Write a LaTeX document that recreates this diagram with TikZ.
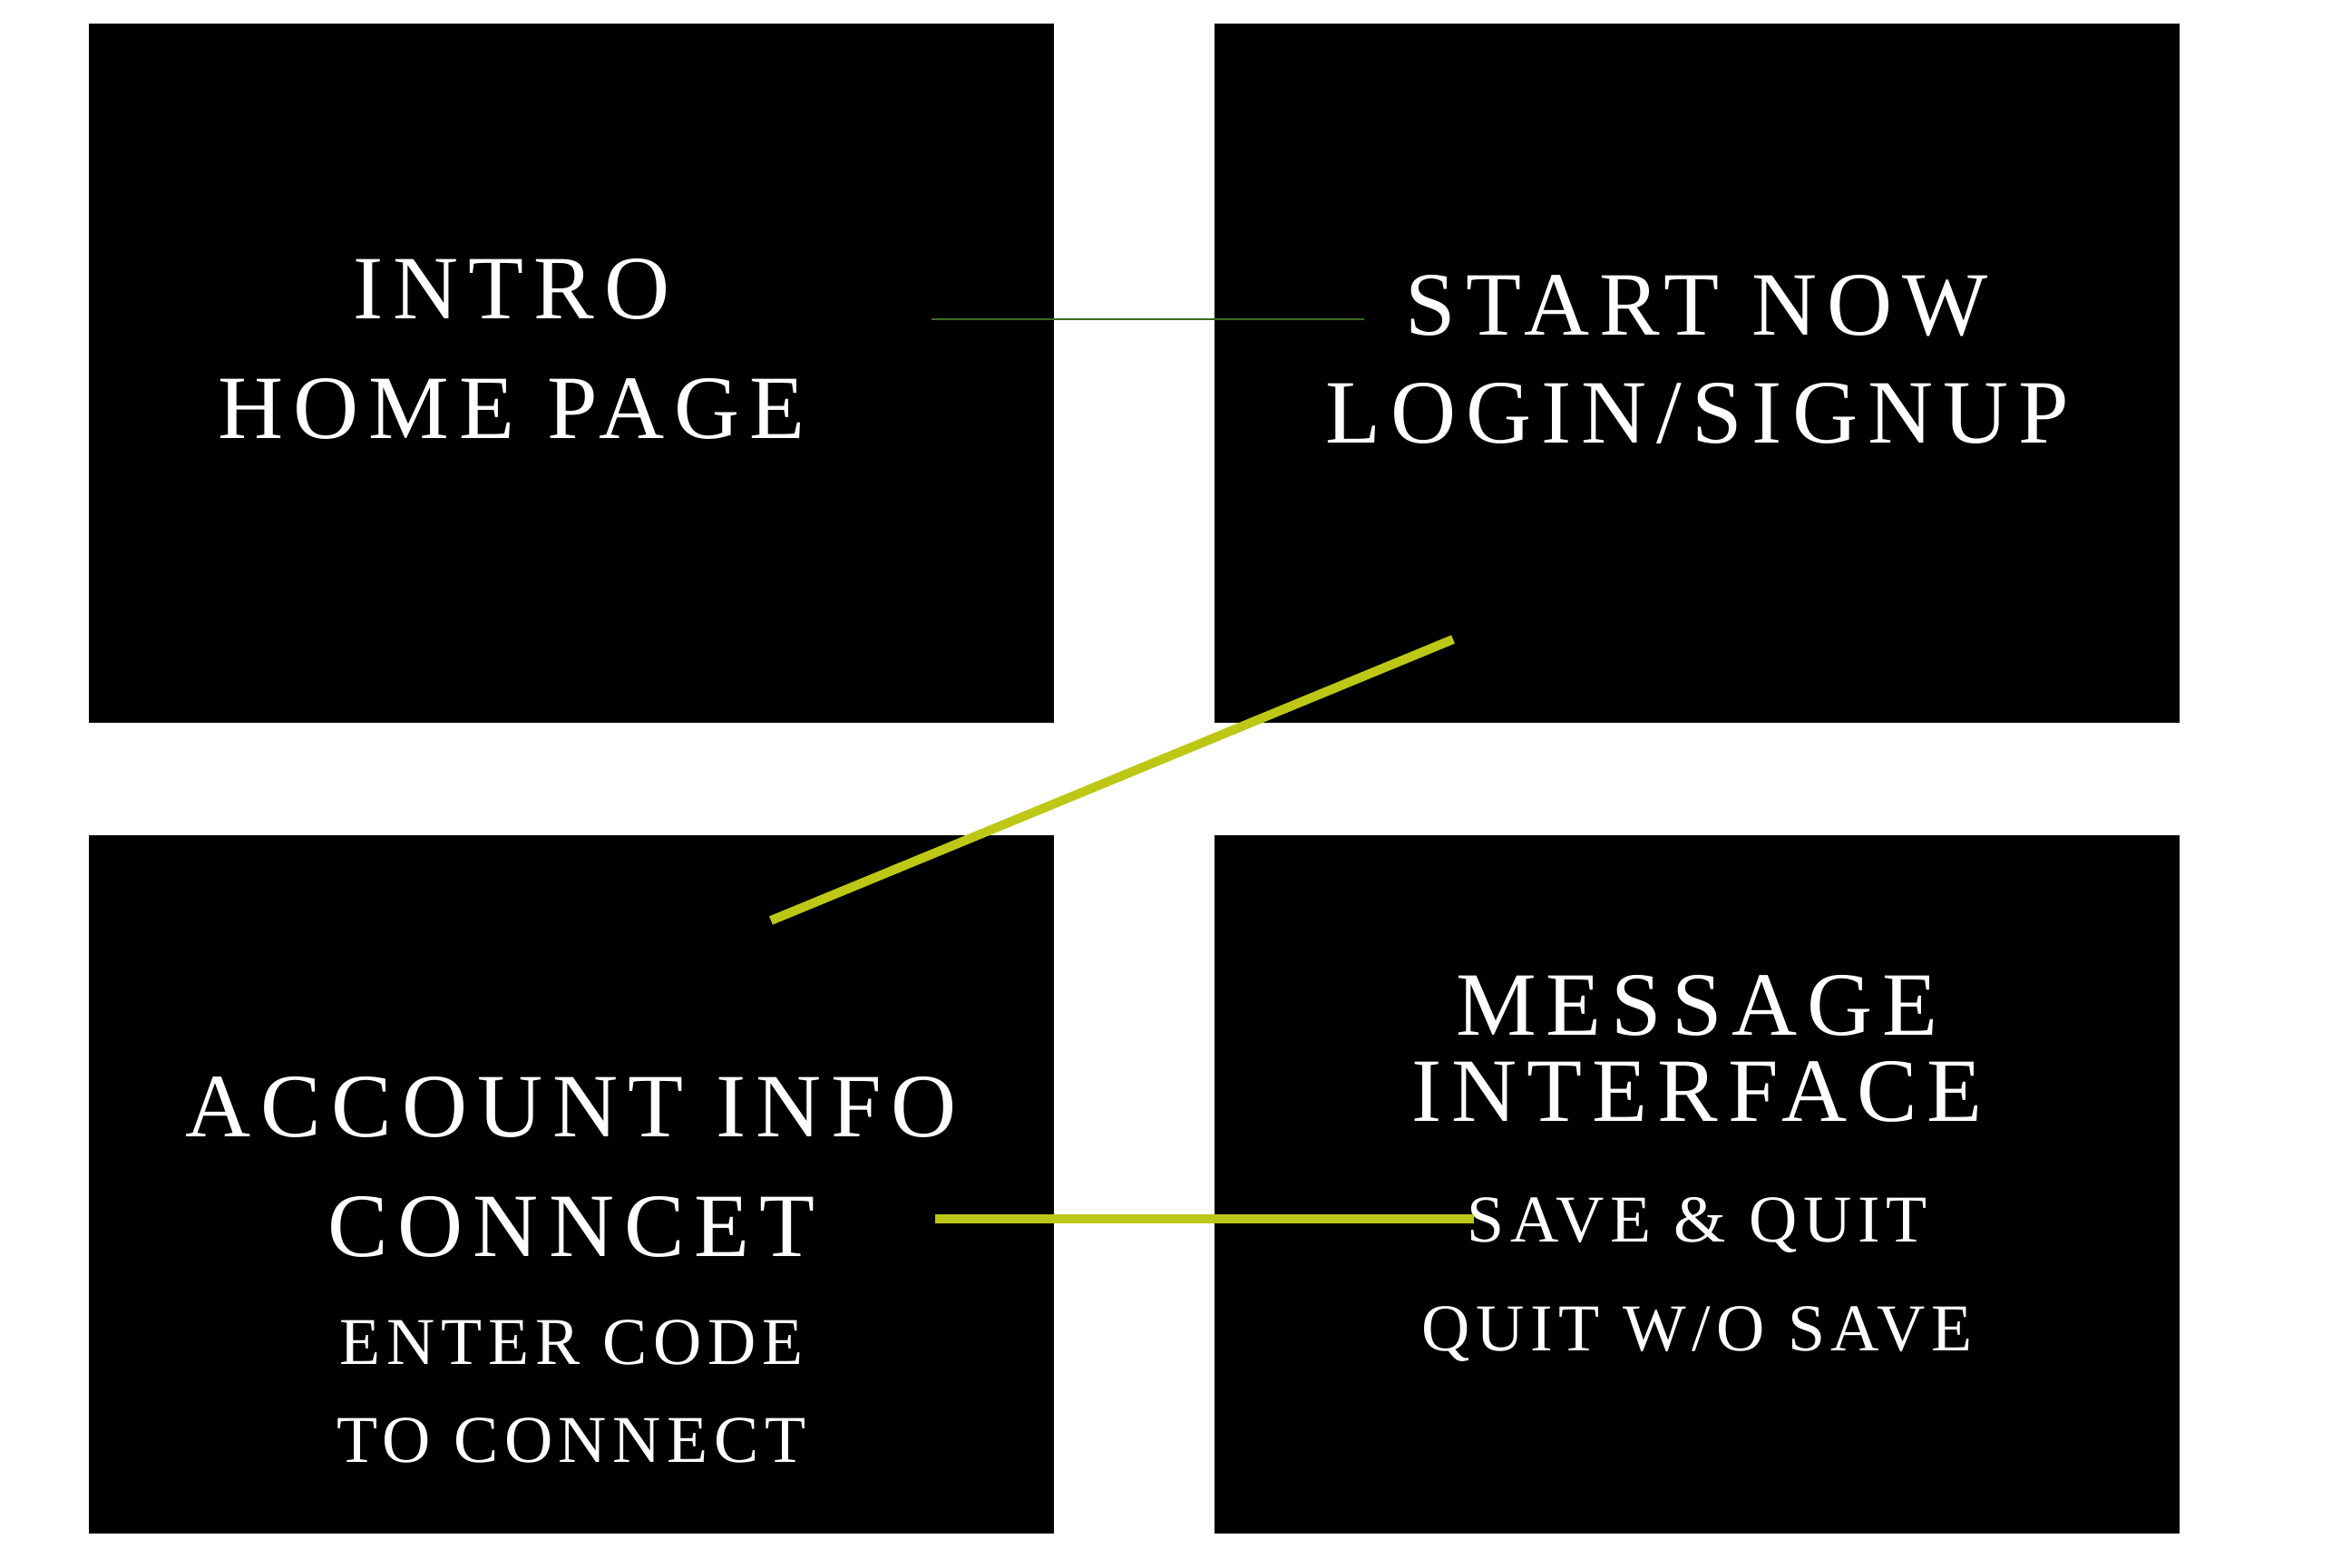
\documentclass[tikz,border=0pt]{standalone}
\usepackage{fontspec}
\setmainfont{Liberation Serif}[LetterSpace=11]
\usepackage{tikz}
\definecolor{lime}{HTML}{BCC815}
\definecolor{olive}{HTML}{3D6B22}

\begin{document}
\begin{tikzpicture}[
  screen/.style={fill=black},
  big/.style={anchor=base,text=white,font=\fontsize{28.4}{30}\selectfont,inner sep=0pt},
  small/.style={anchor=base,text=white,font=\fontsize{21}{23}\selectfont\addfontfeature{LetterSpace=9},inner sep=0pt},
  link/.style={lime,line width=2.85pt},
  thinlink/.style={olive,line width=0.4pt}]
\useasboundingbox (0,0) rectangle (25.92,17.28);
% the four screens
\fill[screen] (0.975,9.31) rectangle (11.62,17.02);
\fill[screen] (13.39,9.31) rectangle (24.03,17.02);
\fill[screen] (0.975,0.37) rectangle (11.62,8.07);
\fill[screen] (13.39,0.37) rectangle (24.03,8.07);
% texts
\node[big] (intro) at (5.64,13.76) {INTRO};
\node[big] (home) at (5.64,12.44) {HOME PAGE};
\node[big] (start) at (18.71,13.58) {START NOW};
\node[big] (login) at (18.71,12.39) {LOGIN/SIGNUP};
\node[big] (account) at (6.30,4.75) {ACCOUNT INFO};
\node[big] (connect) at (6.30,3.43) {CONNCET};
\node[small] (enter) at (6.30,2.24) {ENTER CODE};
\node[small] (tocon) at (6.30,1.16) {TO CONNECT};
\node[big] (message) at (18.71,5.87) {MESSAGE};
\node[big] (interface) at (18.71,4.92) {INTERFACE};
\node[small] (savequit) at (18.71,3.59) {SAVE \& QUIT};
\node[small] (quit) at (18.71,2.39) {QUIT W/O SAVE};
% connectors
\coordinate (a1) at (10.27,13.76);
\coordinate (a2) at (15.04,13.76);
\coordinate (b1) at (16.02,10.23);
\coordinate (b2) at (8.50,7.13);
\coordinate (c1) at (10.31,3.84);
\coordinate (c2) at (16.25,3.84);
\draw[thinlink] (a1)--(a2);
\draw[link] (b1)--(b2);
\draw[link] (c1)--(c2);
\end{tikzpicture}
\end{document}
